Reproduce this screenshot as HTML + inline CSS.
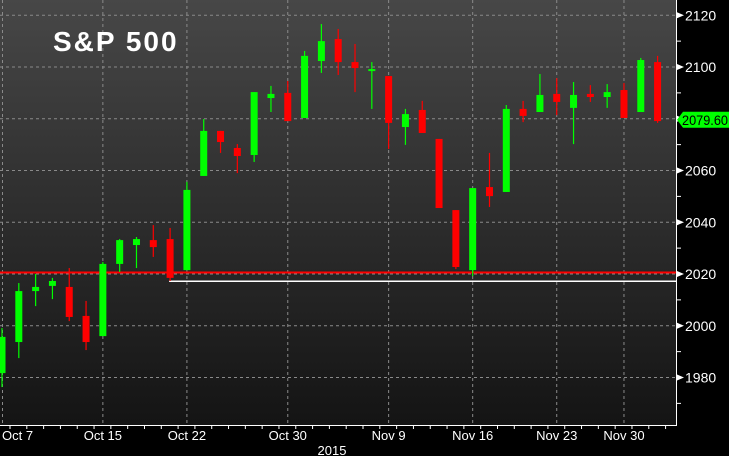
<!DOCTYPE html>
<html><head><meta charset="utf-8"><style>
html,body{margin:0;padding:0;background:#000;}
svg{display:block;font-family:"Liberation Sans Narrow","Liberation Sans",sans-serif;}
</style></head><body>
<svg id="chart" width="729" height="456" viewBox="0 0 729 456">
<defs><linearGradient id="bg" x1="0" y1="0" x2="0" y2="1"><stop offset="0" stop-color="#474747"/><stop offset="1" stop-color="#141414"/></linearGradient></defs>
<rect x="0" y="0" width="676" height="425" fill="url(#bg)"/>
<g id="grid"></g><g id="lines"></g><g id="candles"></g><g id="axes"></g>
<text x="53" y="51" fill="#fff" font-family="Liberation Sans, sans-serif" font-weight="bold" font-size="28" letter-spacing="2">S&amp;P 500</text>
</svg>
<script>
const opens  =[1981.7,1993.7,2013.4,2015.4,2015.0,2003.8,1996.0,2023.9,2031.2,2033.1,2033.5,2021.5,2057.9,2075.3,2068.7,2066.0,2088.0,2090.0,2080.3,2102.3,2110.8,2101.9,2098.5,2096.5,2076.8,2083.4,2072.2,2044.7,2021.5,2053.6,2051.7,2083.8,2082.6,2089.6,2084.2,2089.6,2088.4,2091.1,2082.6,2101.9];
const highs  =[1999.1,2016.5,2020.0,2018.5,2022.3,2009.6,2024.6,2033.5,2034.3,2038.9,2037.8,2055.6,2079.9,2075.3,2070.2,2090.3,2092.7,2094.6,2106.2,2116.6,2114.7,2108.9,2101.9,2096.5,2083.8,2086.9,2072.2,2044.7,2053.2,2066.8,2085.3,2086.9,2097.3,2095.7,2094.2,2093.0,2093.4,2093.8,2103.5,2104.3];
const lows   =[1976.3,1987.5,2007.6,2010.3,2001.8,1990.6,1996.0,2020.8,2022.3,2026.6,2017.3,2021.5,2057.9,2066.8,2059.0,2063.3,2082.6,2079.1,2080.3,2097.7,2096.9,2090.3,2083.8,2068.3,2069.9,2074.5,2045.5,2021.9,2019.2,2045.9,2051.7,2078.7,2082.6,2081.4,2070.2,2086.5,2084.2,2080.3,2082.6,2078.4];
const closes =[1995.7,2013.4,2015.0,2017.3,2003.4,1993.7,2023.9,2033.1,2033.5,2030.4,2018.5,2052.5,2075.3,2071.0,2065.6,2090.3,2089.6,2079.1,2104.3,2110.0,2101.9,2099.6,2099.2,2078.4,2081.8,2074.5,2045.5,2022.7,2053.2,2050.1,2083.8,2081.1,2089.2,2086.5,2089.2,2088.4,2090.3,2080.3,2102.7,2079.1];
const yTicks=[1980,2000,2020,2040,2060,2080,2100,2120];
const xLabels=["Oct 7","Oct 15","Oct 22","Oct 30","Nov 9","Nov 16","Nov 23","Nov 30"];
const xLabelIdx=[0,6,11,17,23,28,33,37];
const lastPrice=2079.60, redLevel=2020.6, whiteLevel=2017.2;

const NS="http://www.w3.org/2000/svg";
const y=v=>67+(2100-v)*2.5875;
const x=i=>2+i*16.81;
function mk(tag,attrs,parent){const e=document.createElementNS(NS,tag);for(const k in attrs)e.setAttribute(k,attrs[k]);parent.appendChild(e);return e;}
const grid=document.getElementById('grid'),lines=document.getElementById('lines'),cg=document.getElementById('candles'),ax=document.getElementById('axes');

yTicks.forEach(v=>{
 const l=mk('line',{x1:0,x2:676,y1:y(v),y2:y(v),stroke:'#8a8a8a','stroke-dasharray':'3,3','stroke-width':1},grid);
 
 
});
xLabelIdx.forEach(i=>{
 const gx=i===0?2.5:x(i);
 const l=mk('line',{x1:gx,x2:gx,y1:0,y2:425,stroke:'#8a8a8a','stroke-dasharray':'3,3','stroke-width':1},grid);
 
 
});

const rl=mk('line',{x1:0,x2:676,y1:y(redLevel),y2:y(redLevel),stroke:'#ff0000','stroke-width':2},lines);


const wl=mk('line',{x1:x(10)-1,x2:676,y1:y(whiteLevel),y2:y(whiteLevel),stroke:'#ffffff','stroke-width':1.5},lines);



opens.forEach((o,i)=>{
 const c=closes[i],up=c>=o,col=up?'#00ff00':'#ff0000',cx=x(i);
 const g=mk('g',{},cg);
 
 
 mk('line',{x1:cx,x2:cx,y1:y(highs[i]),y2:y(lows[i]),stroke:col,'stroke-width':1.2},g);
 const top=y(Math.max(o,c)),h=Math.max(2,y(Math.min(o,c))-top);
 mk('rect',{x:cx-3.5,y:top,width:7,height:h,fill:col},g);
});

mk('line',{x1:676.5,x2:676.5,y1:0,y2:426,stroke:'#fff','stroke-width':1},ax);
for(let v=1970;v<=2120;v+=10){
 const t=mk('line',{x1:677,x2:681,y1:y(v),y2:y(v),stroke:'#fff'},ax);
 
 
}
yTicks.forEach(v=>{
 mk('path',{d:`M677 ${y(v)-3}L684 ${y(v)}L677 ${y(v)+3}Z`,fill:'#fff'},ax);
 const t=mk('text',{x:685,y:y(v)+5,fill:'#fff','font-size':14},ax);
 t.textContent=v;
 
 
});
const py=y(lastPrice);
const tag=mk('path',{d:`M677 ${py}L683 ${py-8}L729 ${py-8}L729 ${py+8}L683 ${py+8}Z`,fill:'#00ff00'},ax);


const pt=mk('text',{x:682,y:py+5,fill:'#000','font-size':14,textLength:46,lengthAdjust:'spacingAndGlyphs'},ax);
pt.textContent=lastPrice.toFixed(2);



mk('line',{x1:0,x2:677,y1:425.5,y2:425.5,stroke:'#fff'},ax);
opens.forEach((o,i)=>{mk('line',{x1:x(i)+8,x2:x(i)+8,y1:426,y2:429,stroke:'#fff'},ax);});
xLabels.forEach((s,k)=>{
 const i=xLabelIdx[k];
 const t=mk('text',{x:i===0?2:x(i),y:440,fill:'#fff','font-size':13,'text-anchor':i===0?'start':'middle'},ax);
 t.textContent=s;
 
 
});
const yr=mk('text',{x:332,y:455,fill:'#fff','font-size':13,'text-anchor':'middle'},ax);
yr.textContent='2015';


</script>
</body></html>
